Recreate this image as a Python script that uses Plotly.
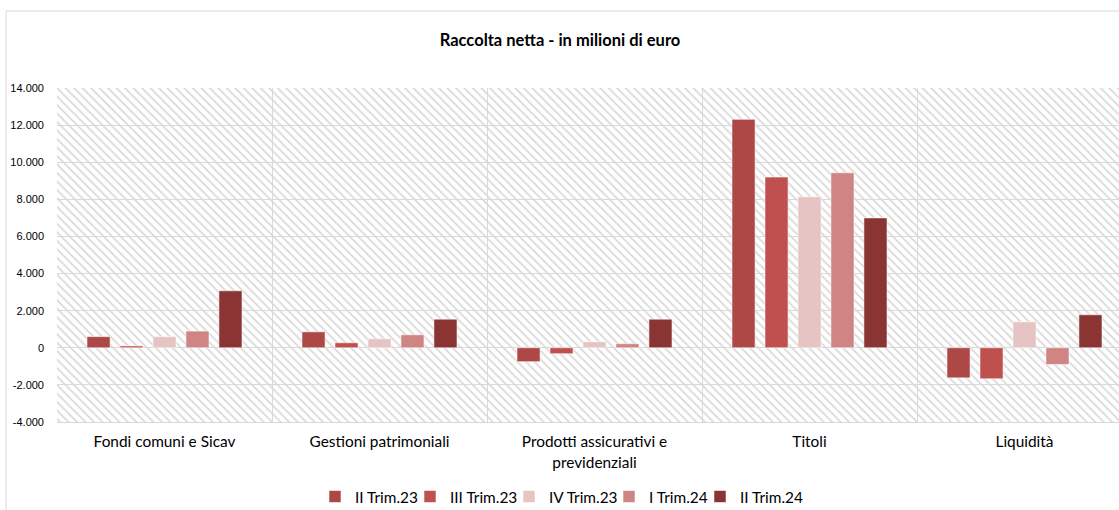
import plotly.graph_objects as go

categories = ["Fondi comuni e Sicav", "Gestioni patrimoniali",
              "Prodotti assicurativi e<br>previdenziali", "Titoli", "Liquidità"]
series_names = ["II Trim.23", "III Trim.23", "IV Trim.23", "I Trim.24", "II Trim.24"]
ii_trim23 = [600, 860, -750, 12310, -1620]
iii_trim23 = [100, 270, -320, 9200, -1670]
iv_trim23 = [600, 490, 320, 8140, 1400]
i_trim24 = [900, 700, 220, 9430, -900]
ii_trim24 = [3070, 1540, 1540, 7000, 1780]
series_values = [ii_trim23, iii_trim23, iv_trim23, i_trim24, ii_trim24]
colors = ["#AE4846", "#C0504D", "#E6C4C4", "#CF8584", "#8A3533"]
legend_widths = [50, 54, 55, 46, 72]  # style: legend entry spacing
y_ticks = [-4000, -2000, 0, 2000, 4000, 6000, 8000, 10000, 12000, 14000]
y_ticktext = ["-4.000", "-2.000", "0", "2.000", "4.000", "6.000", "8.000",
              "10.000", "12.000", "14.000"]

W, H = 1119, 510
L, R, T, B = 57, 0, 88, 510 - 422
pw, ph = W - L - R, H - T - B


def px_x(sx):
    return (sx - L) / pw


def px_y(sy):
    return (H - B - sy) / ph


fig = go.Figure()

# hatched plot-area background (base subplot, drawn below the data)
fig.add_trace(go.Bar(
    x=[0.5], y=[y_ticks[-1] - y_ticks[0]], base=[y_ticks[0]], width=[1],
    xaxis="x", yaxis="y",
    marker=dict(color="rgba(0,0,0,0)", line=dict(width=0),
                pattern=dict(shape="\\", size=6, solidity=0.3,
                             fgcolor="#d9d9d9", bgcolor="rgba(0,0,0,0)",
                             fillmode="replace")),
    showlegend=False, hoverinfo="skip"))

xpos = list(range(len(categories)))
for name, vals, col, lw in zip(series_names, series_values, colors, legend_widths):
    fig.add_trace(go.Bar(
        x=xpos, y=vals, name=name, xaxis="x2", yaxis="y", legendwidth=lw,
        marker=dict(color=col, line=dict(color="rgba(255,255,255,0.55)", width=1)),
    ))

fig.update_layout(
    width=W, height=H,
    margin=dict(l=L, r=R, t=T, b=B, autoexpand=False),
    paper_bgcolor="white", plot_bgcolor="white",
    barmode="group", bargap=0.233, bargroupgap=0.3,
    title=dict(text="<b>Raccolta netta - in milioni di euro</b>",
               x=560 / W, xanchor="center", y=1 - 40 / H,
               yanchor="middle",
               font=dict(family="Lato", size=16.5, color="#000000")),
    font=dict(family="Lato", size=15.4, color="#000000"),
    xaxis=dict(range=[0, 1], visible=False, showgrid=False, zeroline=False,
               fixedrange=True),
    xaxis2=dict(overlaying="x", range=[-0.5, 4.5 - 13 / 215],
                tickmode="array", tickvals=xpos, ticktext=categories,
                showgrid=False, zeroline=False, ticks="",
                showline=True, linecolor="#d9d9d9", linewidth=1,
                ticklabelstandoff=6,
                tickfont=dict(family="Lato", size=15.4, color="#000000"),
                minor=dict(tickvals=[0.5, 1.5, 2.5, 3.5], showgrid=True,
                           gridcolor="#d9d9d9", gridwidth=1, ticks=""),
                side="bottom", anchor="y"),
    yaxis=dict(range=[y_ticks[0], y_ticks[-1]], tickmode="array",
               tickvals=y_ticks, ticktext=y_ticktext,
               showgrid=True, gridcolor="#d9d9d9", gridwidth=1,
               zeroline=False, ticks="", ticklabelstandoff=12,
               tickfont=dict(family="Liberation Sans", size=11, color="#000000")),
    legend=dict(orientation="h", x=px_x(315), xanchor="left",
                y=px_y(497), yanchor="middle",
                font=dict(family="Lato", size=15.4, color="#000000"),
                itemwidth=30, tracegroupgap=0, entrywidthmode="pixels"),
    shapes=[dict(type="rect", xref="paper", yref="paper",
                 x0=px_x(6), x1=1.05, y0=-0.4, y1=px_y(11),
                 line=dict(color="#d9d9d9", width=1), fillcolor="rgba(0,0,0,0)",
                 layer="below")],
)

fig.write_html("out.html", config={"displayModeBar": False},
               post_script="document.body.style.margin='0px';")
